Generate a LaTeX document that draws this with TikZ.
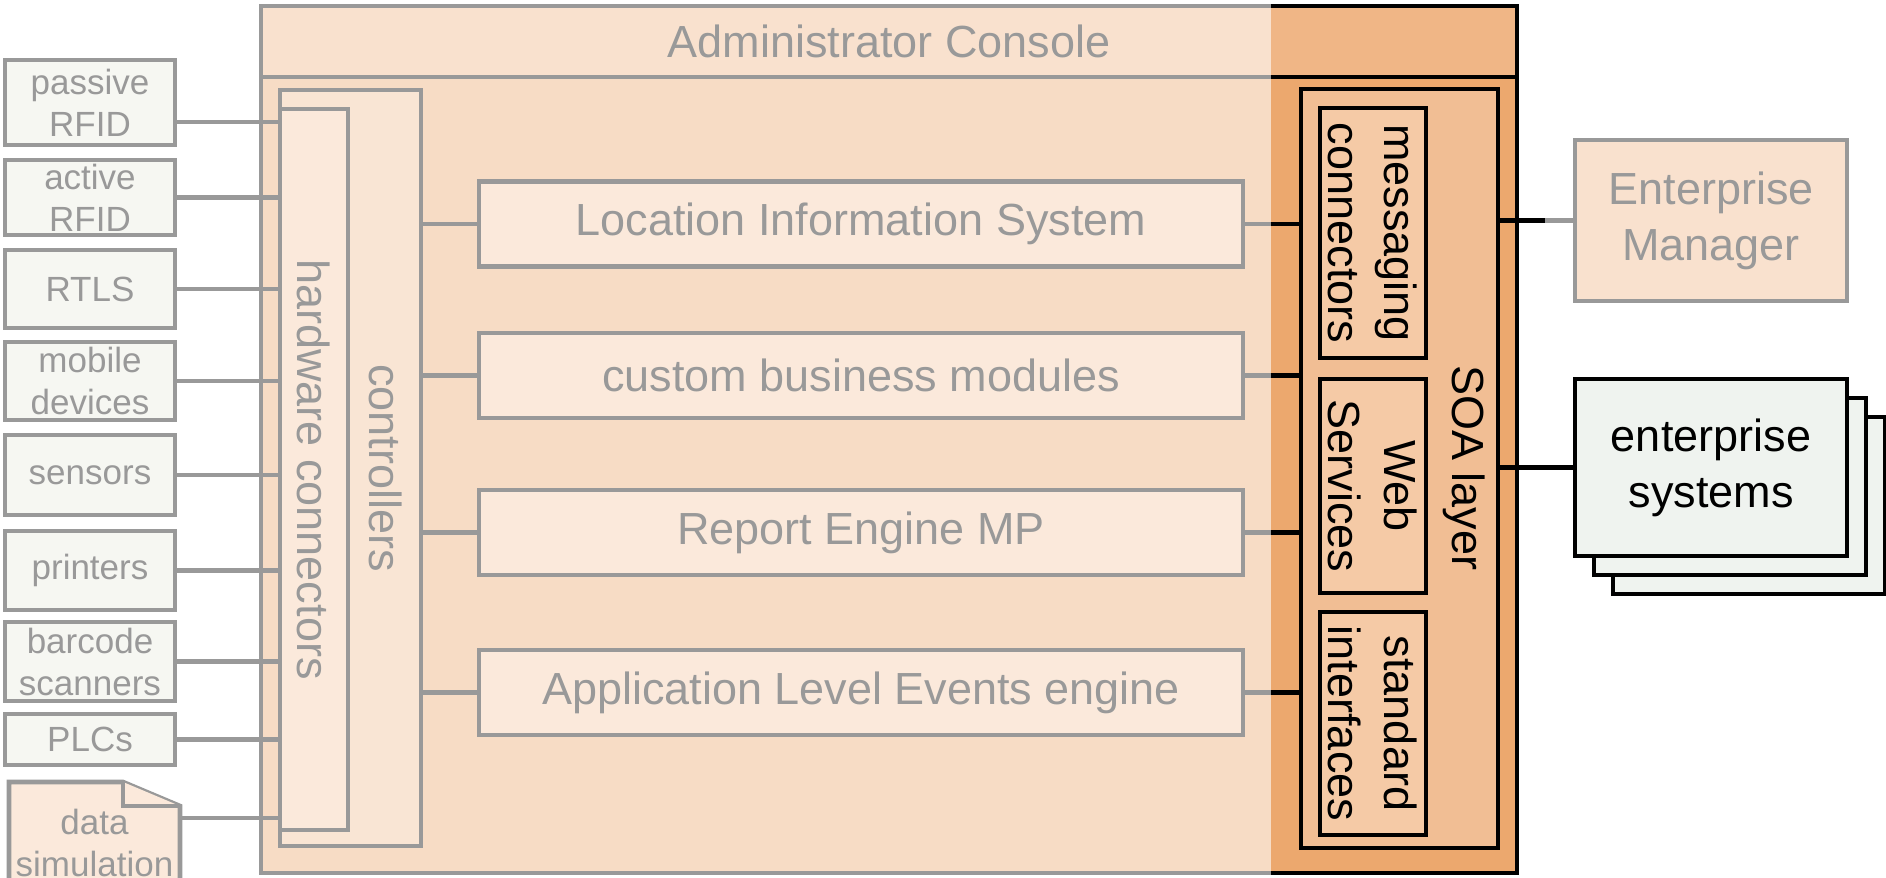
\documentclass[tikz,border=0pt]{standalone}
\usepackage{fontspec}
\setmainfont{Liberation Sans}
\usetikzlibrary{shadows}

\definecolor{consoleorange}{RGB}{236,168,110}
\definecolor{titleorange}{RGB}{240,182,134}
\definecolor{soafill}{RGB}{241,190,148}
\definecolor{boxfill}{RGB}{245,202,166}
\definecolor{devicefill}{RGB}{234,236,224}
\definecolor{esfill}{RGB}{239,243,239}

\tikzset{
  box/.style     = {shape=rectangle, draw=black, line width=2.3pt,
                    align=center, inner sep=0pt,
                    font=\fontsize{22.5}{28}\selectfont},
  device/.style  = {box, fill=devicefill, minimum width=85pt,
                    font=\fontsize{17.5}{21}\selectfont},
  module/.style  = {box, fill=boxfill, minimum width=382pt, minimum height=42.5pt},
  soapart/.style = {box, fill=boxfill, minimum height=53pt, rotate=-90},
  vtext/.style   = {rotate=-90, align=center, font=\fontsize{22.5}{28}\selectfont},
  link/.style    = {draw=black, line width=2.3pt},
  fade/.style    = {fill=white, fill opacity=0.6}
}

\begin{document}
\begin{tikzpicture}[x=0.5pt, y=-0.5pt]
  \useasboundingbox (0,0) rectangle (1886,878);
  \clip (0,0) rectangle (1886,878);

  % console with its title band
  \node [box, fill=consoleorange, minimum width=628pt, minimum height=433.5pt] (console) at (889,439.5) {};
  \node [box, fill=titleorange, minimum width=628pt, minimum height=35.5pt, anchor=north] (title) at (console.north) {Administrator Console};

  % controllers and hardware connectors
  \node [box, fill=soafill, minimum width=70.5pt, minimum height=378pt] (ctrl) at (350.5,468) {};
  \node [vtext] (ctrltext) at (386,468) {controllers};
  \node [box, fill=boxfill, minimum width=34pt, minimum height=360.5pt,
         label={[vtext]center:hardware connectors}] (hw) at (314,469.5) {};

  % modules
  \node [module] (lis)    at (861,224)   {Location Information System};
  \node [module] (custom) at (861,375.5) {custom business modules};
  \node [module] (report) at (861,532.5) {Report Engine MP};
  \node [module] (ale)    at (861,692.5) {Application Level Events engine};

  % SOA layer
  \node [box, fill=soafill, minimum width=98.5pt, minimum height=379.5pt] (soa) at (1399.5,468.5) {};
  \node [vtext] (soatext) at (1464,468) {SOA layer};
  \node [soapart, minimum width=125pt]   (msg) at (1373,233)   {messaging\\connectors};
  \node [soapart, minimum width=107pt]   (ws)  at (1373,486)   {Web\\Services};
  \node [soapart, minimum width=111.5pt] (std) at (1373,723.5) {standard\\interfaces};

  % outside systems
  \node [box, fill=titleorange, minimum width=136pt, minimum height=80.5pt] (em) at (1711,220.5) {Enterprise\\Manager};
  \node [box, fill=esfill, minimum width=136pt, minimum height=88.5pt,
         double copy shadow={shadow xshift=9.5pt, shadow yshift=-9.5pt,
                             fill=esfill, draw=black, line width=2.3pt}] (es) at (1711,467.5) {enterprise\\systems};

  % devices
  \node [device, minimum height=42.5pt] (pas)  at (90,102.5) {passive\\RFID};
  \node [device, minimum height=37.5pt] (act)  at (90,197.5) {active\\RFID};
  \node [device, minimum height=39pt]   (rtls) at (90,289)   {RTLS};
  \node [device, minimum height=39pt]   (mob)  at (90,381)   {mobile\\devices};
  \node [device, minimum height=40pt]   (sen)  at (90,475)   {sensors};
  \node [device, minimum height=39.5pt] (prn)  at (90,570.5) {printers};
  \node [device, minimum height=39.5pt] (bar)  at (90,661.5) {barcode\\scanners};
  \node [device, minimum height=25.5pt] (plc)  at (90,739.5) {PLCs};

  % data simulation sheet
  \draw [link, fill=boxfill] (9,782) -- (123,782) -- (180,806) -- (180,900) -- (9,900) -- cycle;
  \draw [link, fill=boxfill] (123,782) -- (123,806) -- (180,806);
  \node [align=center, font=\fontsize{17.5}{21}\selectfont] (sim) at (94.5,843) {data\\simulation};
  \coordinate (simout) at (180,818);

  % connectors
  \draw [link] ([yshift=-9.75pt]pas.east) -- ([yshift=-9.75pt]pas.east -| hw.west);
  \foreach \d in {act,rtls,mob,sen,prn,bar,plc}
    \draw [link] (\d.east) -- (\d.east -| hw.west);
  \draw [link] (simout) -- (simout -| hw.west);
  \foreach \m in {lis,custom,report,ale} {
    \draw [link] (ctrl.east |- \m.west) -- (\m.west);
    \draw [link] (\m.east) -- (\m.east -| soa.west);
  }
  \draw [link] (soa.east |- em.west) -- (em.west);
  \draw [link] (soa.east |- es.west) -- (es.west);

  % faded parts
  \fill [fade] (0,0) rectangle (1271,878);
  \fill [fade] (1545,125) rectangle (1886,315);
\end{tikzpicture}
\end{document}
